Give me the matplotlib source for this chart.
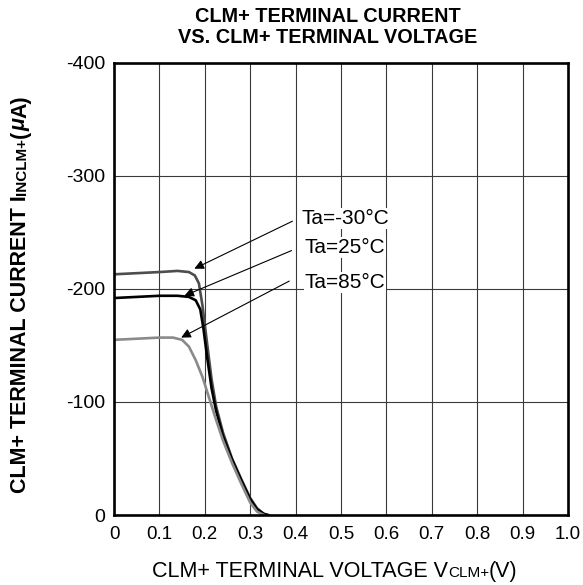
import matplotlib
matplotlib.use('Agg')
import matplotlib.pyplot as plt
import numpy as np

plt.rcParams['font.family'] = ['Liberation Sans', 'DejaVu Sans']

# ---- data ----
v_m30 = [0, 0.05, 0.10, 0.14, 0.165, 0.178, 0.187, 0.195, 0.205, 0.215, 0.225, 0.24, 0.26, 0.28, 0.30, 0.315, 0.33, 0.34]
i_m30 = [-213, -214, -215, -216, -215, -212, -205, -185, -152, -120, -96, -73, -50, -32, -15, -6, -1, 0]

v_25 = [0, 0.05, 0.10, 0.14, 0.165, 0.18, 0.19, 0.197, 0.205, 0.215, 0.225, 0.24, 0.26, 0.28, 0.30, 0.315, 0.33, 0.338]
i_25 = [-192, -193, -194, -194, -193, -190, -182, -165, -140, -112, -92, -70, -49, -31, -14, -5, -1, 0]

v_85 = [0, 0.05, 0.10, 0.13, 0.15, 0.165, 0.18, 0.195, 0.21, 0.225, 0.24, 0.26, 0.28, 0.30, 0.315, 0.33]
i_85 = [-155, -156, -157, -157, -155, -149, -137, -122, -103, -84, -66, -46, -28, -11, -3, 0]

labels = ["Ta=-30°C", "Ta=25°C", "Ta=85°C"]
colors = ["#4d4d4d", "#000000", "#8a8a8a"]
arrow_tip = [(0.177, -218), (0.155, -194), (0.148, -157)]
arrow_start = [(0.393, -260), (0.391, -234), (0.386, -207)]
label_pos = [(0.413, -262), (0.42, -237), (0.42, -206)]

xticks = [0, 0.1, 0.2, 0.3, 0.4, 0.5, 0.6, 0.7, 0.8, 0.9, 1.0]
xticklabels = ["0", "0.1", "0.2", "0.3", "0.4", "0.5", "0.6", "0.7", "0.8", "0.9", "1.0"]
yticks = [0, -100, -200, -300, -400]
yticklabels = ["0", "-100", "-200", "-300", "-400"]

title = "CLM+ TERMINAL CURRENT\nVS. CLM+ TERMINAL VOLTAGE"

W, H = 583, 585
fig = plt.figure(figsize=(W / 100, H / 100), dpi=100)
ax = fig.add_axes([114 / W, 1 - 515 / H, 454 / W, 452 / H])

for v, i, c in zip([v_m30, v_25, v_85], [i_m30, i_25, i_85], colors):
    ax.plot(v, i, color=c, lw=1.9, solid_joinstyle='round', zorder=3)

ax.set_xlim(0, 1.0)
ax.set_ylim(0, -400)
ax.set_xticks(xticks)
ax.set_xticklabels(xticklabels, fontsize=13.5)
ax.set_yticks(yticks)
ax.set_yticklabels(yticklabels, fontsize=14)
ax.tick_params(length=0, pad=6.5)
ax.tick_params(axis='x', pad=8)
ax.grid(True, color='#3a3a3a', lw=0.8)
for s in ax.spines.values():
    s.set_linewidth(1.9)
    s.set_zorder(5)

for lab, tip, st, pos in zip(labels, arrow_tip, arrow_start, label_pos):
    ax.annotate('', xy=tip, xytext=st,
                arrowprops=dict(arrowstyle='-|>', color='black', lw=0.8,
                                shrinkA=0, shrinkB=0, mutation_scale=14),
                zorder=4)
    ax.text(pos[0], pos[1], lab, fontsize=15, ha='left', va='center',
            bbox=dict(fc='white', ec='none', pad=0.8), zorder=4)

fig.text(328 / W, 1 - 27 / H, title, fontsize=14.3, fontweight='bold',
         ha='center', va='center', linespacing=1.15)

renderer = fig.canvas.get_renderer()


def seq_text(x, y, parts, rotation=0):
    for s, size, weight, style in parts:
        t = fig.text(x / W, y / H, s, fontsize=size, fontweight=weight,
                     fontstyle=style, ha='left', va='baseline',
                     rotation=rotation, rotation_mode='anchor')
        bb = t.get_window_extent(renderer)
        if rotation == 0:
            x += bb.width
        else:
            y += bb.height


seq_text(152, H - 577, [("CLM+ TERMINAL VOLTAGE V", 15.5, 'normal', 'normal'),
                        ("CLM+", 11, 'normal', 'normal'),
                        ("(V)", 15.5, 'normal', 'normal')])

seq_text(26, H - 493, [("CLM+ TERMINAL CURRENT I", 15.5, 'bold', 'normal'),
                       ("INCLM+", 11, 'bold', 'normal'),
                       ("(", 15.5, 'bold', 'normal'),
                       ("\u03bc", 15.5, 'bold', 'italic'),
                       ("A)", 15.5, 'bold', 'normal')], rotation=90)

fig.savefig('out.png', dpi=100)
